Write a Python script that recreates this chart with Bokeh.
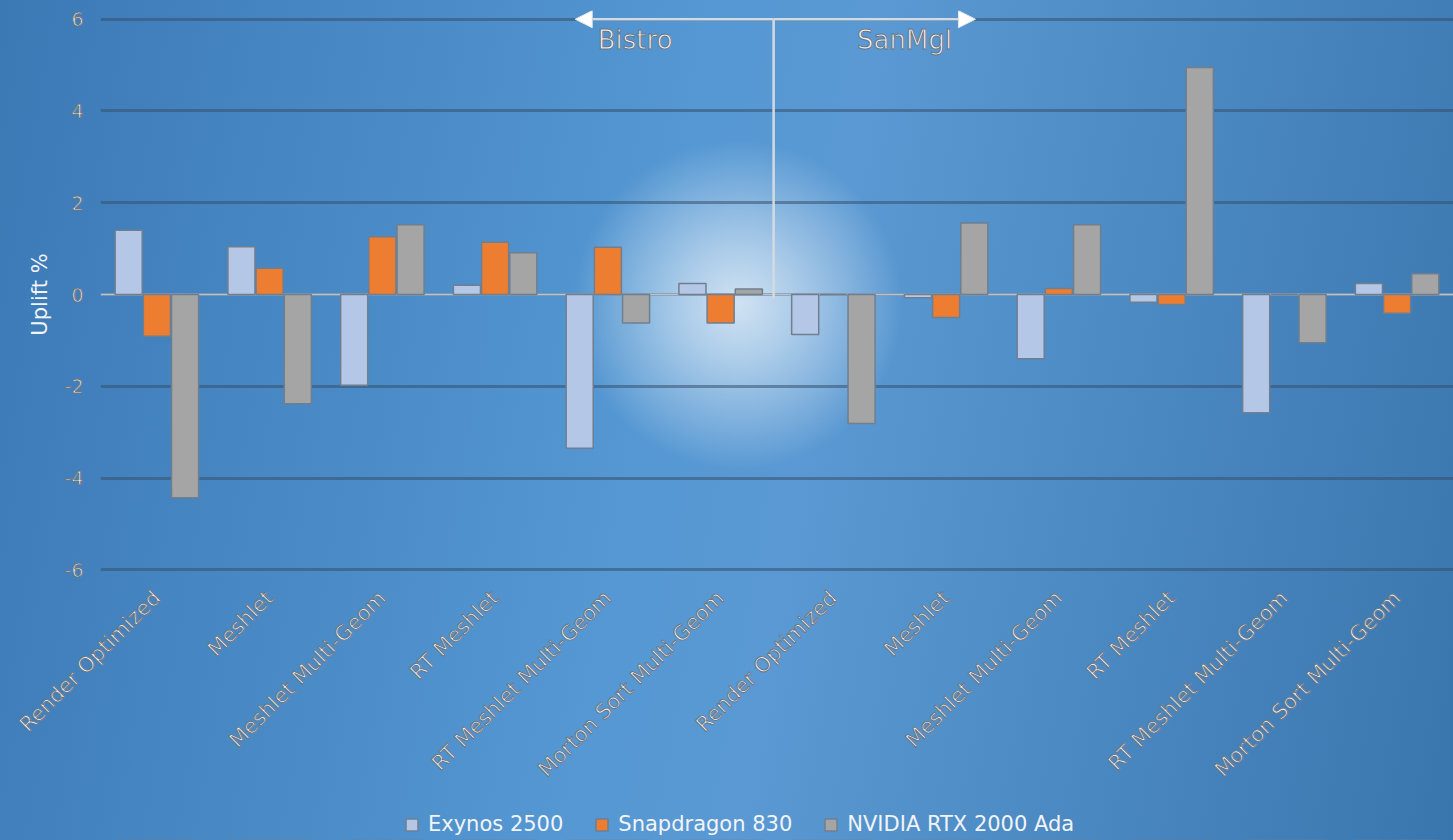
import math

from bokeh.plotting import figure
from bokeh.layouts import column
from bokeh.models import (ColumnDataSource, Range1d, FixedTicker, Legend, LegendItem,
                          Label, Arrow, NormalHead, Span)
from bokeh.transform import dodge
from bokeh.embed import file_html
from bokeh.resources import INLINE

# Workloads, first the Bistro scene then the SanMgl scene
categories = [
    "Render Optimized", "Meshlet", "Meshlet Multi-Geom", "RT Meshlet",
    "RT Meshlet Multi-Geom", "Morton Sort Multi-Geom",
    "Render Optimized", "Meshlet", "Meshlet Multi-Geom", "RT Meshlet",
    "RT Meshlet Multi-Geom", "Morton Sort Multi-Geom",
]
scenes = ["Bistro", "SanMgl"]
series_names = ["Exynos 2500", "Snapdragon 830", "NVIDIA RTX 2000 Ada"]

# Uplift in percent per device
exynos = [1.40, 1.04, -1.98, 0.20, -3.35, 0.24, -0.87, -0.07, -1.40, -0.17, -2.58, 0.24]
snapdragon = [-0.91, 0.57, 1.26, 1.14, 1.03, -0.62, 0.00, -0.50, 0.13, -0.22, 0.00, -0.41]
nvidia = [-4.43, -2.38, 1.52, 0.91, -0.62, 0.12, -2.81, 1.56, 1.52, 4.95, -1.05, 0.45]

y_ticks = [-6, -4, -2, 0, 2, 4, 6]

FONT = "DejaVu Sans"
TEXT = "#f2f4f7"
OUTLINE = "#6b7684"

colors = ["#b4c7e7", "#ed7d31", "#a5a5a5"]
keys = ["exynos", "snapdragon", "nvidia"]
offsets = [-0.25, 0.0, 0.25]
BAR_LINE = "#6f7f90"

source = ColumnDataSource(dict(
    idx=list(range(len(categories))),
    exynos=exynos,
    snapdragon=snapdragon,
    nvidia=nvidia,
))


def clear_background(fig):
    fig.background_fill_alpha = 0
    fig.border_fill_alpha = 0
    fig.outline_line_alpha = 0


p = figure(
    width=1453, height=800,
    x_range=Range1d(-0.5, len(categories) - 0.5),
    y_range=Range1d(-6.19, 6.19),
    output_backend="svg", toolbar_location=None, tools="",
    min_border_left=100, min_border_right=0,
    min_border_top=10, min_border_bottom=222,
)
clear_background(p)

# grid
p.xgrid.visible = False
p.ygrid.ticker = FixedTicker(ticks=y_ticks)
p.ygrid.grid_line_color = "#35506e"
p.ygrid.grid_line_alpha = 0.55
p.ygrid.grid_line_width = 3

# zero line
p.add_layout(Span(location=0, dimension="width", line_color="#b9c3cd",
                  line_width=2, level="underlay"))

# bars
for key, off, col in zip(keys, offsets, colors):
    p.vbar(x=dodge("idx", off, range=p.x_range), top=key, bottom=0, width=0.24,
           source=source, fill_color=col, line_color=BAR_LINE, line_width=1.5)

# axes
p.yaxis.ticker = FixedTicker(ticks=y_ticks)
p.yaxis.major_label_overrides = {t: str(t) for t in y_ticks}
p.yaxis.axis_line_alpha = 0
p.yaxis.major_tick_in = 0
p.yaxis.major_tick_out = 0
p.yaxis.minor_tick_line_alpha = 0
p.yaxis.major_label_standoff = 17
p.yaxis.major_label_text_font = FONT
p.yaxis.major_label_text_font_size = "19px"
p.yaxis.major_label_text_color = TEXT
p.yaxis.axis_label = "Uplift %"
p.yaxis.axis_label_text_font = FONT
p.yaxis.axis_label_text_font_size = "21px"
p.yaxis.axis_label_text_font_style = "normal"
p.yaxis.axis_label_text_color = TEXT
p.yaxis.axis_label_standoff = 10

p.xaxis.ticker = FixedTicker(ticks=list(range(len(categories))))
p.xaxis.major_label_overrides = {i: c for i, c in enumerate(categories)}
p.xaxis.major_label_orientation = math.pi / 4
p.xaxis.axis_line_alpha = 0
p.xaxis.major_tick_in = 0
p.xaxis.major_tick_out = 0
p.xaxis.minor_tick_line_alpha = 0
p.xaxis.major_label_standoff = 16
p.xaxis.major_label_text_font = FONT
p.xaxis.major_label_text_font_size = "21px"
p.xaxis.major_label_text_color = TEXT
for ax in (p.xaxis[0], p.yaxis[0]):
    ax.major_label_text_outline_color = OUTLINE

# scene divider with arrows
split = 5.47
p.segment(x0=[split], y0=[6], x1=[split], y1=[-0.08], line_color="#d4dae0", line_width=2.5)
for x_end in (3.71, 7.26):
    p.add_layout(Arrow(
        end=NormalHead(size=17, fill_color="white", line_color="#e6e6e6", line_width=1),
        x_start=split, y_start=6, x_end=x_end, y_end=6,
        line_color="#d4dae0", line_width=2.5,
    ))
for name, x in zip(scenes, (3.91, 6.21)):
    p.add_layout(Label(
        x=x, y=5.87, text=name, text_baseline="top", text_align="left",
        text_font=FONT, text_font_size="26px", text_color=TEXT,
        text_outline_color=OUTLINE,
    ))

# legend strip under the chart; its copies of the bars sit outside its view
lg = figure(
    width=1453, height=40,
    x_range=Range1d(-0.5, len(categories) - 0.5), y_range=Range1d(100, 101),
    output_backend="svg", toolbar_location=None, tools="",
    x_axis_location=None, y_axis_location=None, min_border=0,
)
lg.grid.visible = False
clear_background(lg)

legend_renderers = [
    lg.vbar(x=dodge("idx", off, range=lg.x_range), top=key, bottom=0, width=0.24,
            source=source, fill_color=col, line_color=BAR_LINE, line_width=1.5)
    for key, off, col in zip(keys, offsets, colors)
]
legend = Legend(
    items=[LegendItem(label=n, renderers=[r]) for n, r in zip(series_names, legend_renderers)],
    orientation="horizontal", location=(304, 4),
    padding=0, margin=0, spacing=31, label_standoff=9,
    glyph_width=15, glyph_height=15,
    label_text_font=FONT, label_text_font_size="21px", label_text_color=TEXT,
    background_fill_alpha=0, border_line_alpha=0,
)
lg.add_layout(legend, "center")

layout = column(p, lg, spacing=0)
layout.styles = {
    "background-image": (
        "radial-gradient(circle 165px at 738px 305px, rgba(255,255,255,0.72) 0%, "
        "rgba(255,255,255,0.5) 35%, rgba(255,255,255,0.2) 75%, rgba(255,255,255,0) 100%), "
        "linear-gradient(100deg, #3b79b5 0%, #5598d3 45%, #5a99d3 55%, #3a76ae 100%)"
    ),
}
open("out.html", "w").write(file_html(layout, INLINE))
